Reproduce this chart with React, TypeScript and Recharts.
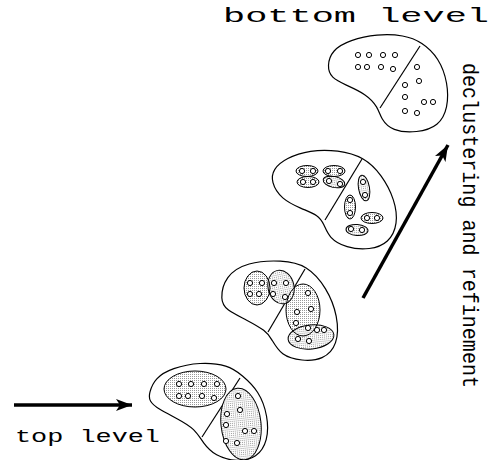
import { ComposedChart, XAxis, YAxis, Line, Scatter } from 'recharts'

// outlines of the four hierarchy levels (clockwise, closed B-spline)
const blobBottom = [[327, 66], [332, 50], [350, 40], [377, 34], [404, 35], [422, 42], [439, 58], [448, 83], [448, 108], [439, 126], [417, 133], [392, 131], [381, 119], [378, 107], [366, 94], [346, 85], [331, 78]]
const blobLevel2 = [[273, 169], [286, 158], [310, 150], [338, 150], [364, 157], [382, 175], [395, 200], [398, 224], [389, 243], [370, 250], [346, 248], [329, 238], [324, 224], [318, 215], [302, 209], [281, 199], [271, 182]]
const blobLevel3 = [[220, 300], [225, 276], [247, 262], [282, 260], [307, 265], [327, 288], [338, 316], [338, 345], [323, 360], [302, 361], [281, 356], [271, 338], [266, 331], [247, 320], [226, 310]]
const blobTop = [[149, 393], [155, 378], [172, 368], [200, 362], [228, 365], [242, 375], [259, 391], [268, 416], [268, 441], [257, 458], [237, 462], [215, 456], [203, 443], [195, 429], [178, 419], [158, 409], [149, 401]]

const dividers = [
  [[420, 46], [380, 108]],
  [[362, 159], [325, 220]],
  [[305, 269], [268, 332]],
  [[240, 378], [202, 437]],
]

// stippled clusters: centre, radii, tilt
const clusters = [
  { x: 307, y: 171, rx: 11, ry: 5.5, rot: 0 },
  { x: 334, y: 171, rx: 11, ry: 5.5, rot: 0 },
  { x: 308, y: 182, rx: 11, ry: 5.5, rot: 0 },
  { x: 334, y: 182, rx: 11, ry: 5.5, rot: 12 },
  { x: 364, y: 188, rx: 13, ry: 5.5, rot: 80 },
  { x: 350, y: 207, rx: 12, ry: 5.5, rot: 90 },
  { x: 372, y: 218, rx: 11, ry: 5.5, rot: 0 },
  { x: 357, y: 230, rx: 11, ry: 5.5, rot: 4 },
  { x: 257, y: 288, rx: 13, ry: 17, rot: 0 },
  { x: 281, y: 287, rx: 13, ry: 17, rot: -12 },
  { x: 303, y: 310, rx: 17, ry: 26, rot: 0 },
  { x: 311, y: 337, rx: 23, ry: 12, rot: -6 },
  { x: 195, y: 389, rx: 31, ry: 18, rot: 0 },
  { x: 241, y: 424, rx: 20, ry: 36, rot: -6 },
]

// data points
const points = [
  [358, 55], [369, 55], [383, 55], [395, 55], [358, 67], [367, 67], [381, 67], [393, 69],
  [417, 67], [419, 81], [405, 85], [405, 97], [424, 102], [433, 102], [405, 111], [417, 113],
  [302, 171], [313, 171], [328, 171], [340, 171], [303, 182], [313, 182], [329, 181], [340, 184],
  [363, 182], [365, 195], [350, 200], [350, 213], [367, 218], [377, 218], [351, 229], [362, 230],
  [250, 283], [262, 283], [250, 294], [259, 294], [274, 283], [286, 283], [273, 294], [285, 297],
  [308, 293], [311, 309], [297, 312], [296, 323], [308, 328], [317, 330], [324, 330], [298, 339], [309, 341],
  [179, 384], [191, 384], [204, 384], [217, 384], [179, 396], [188, 396], [202, 396], [214, 398],
  [238, 396], [240, 410], [227, 414], [226, 425], [245, 431], [254, 431], [226, 441], [237, 443],
]

const arrows = [
  [[14, 405], [132, 405]],
  [[363, 298], [448, 145]],
]

const labels = [
  { x: 223, y: 22, text: 'bottom level' },
  { x: 15, y: 442, text: 'top level' },
  { x: 463, y: 63, text: 'declustering and refinement' },
]

const labelStyle: Record<string, { size: number; len: number; vertical?: boolean }> = {
  'bottom level': { size: 19, len: 266 },
  'top level': { size: 17, len: 145 },
  'declustering and refinement': { size: 17, len: 325, vertical: true },
}

const toXY = (pts: number[][]) => pts.map(([x, y]) => ({ x, y }))

const renderPoint = (p: any) => (
  <circle cx={p.cx} cy={p.cy} r={2.6} fill="#fff" stroke="#000" strokeWidth={1} />
)

const renderClusterFill = (p: any) => (
  <ellipse cx={p.cx} cy={p.cy} rx={p.payload.rx} ry={p.payload.ry}
    transform={`rotate(${p.payload.rot} ${p.cx} ${p.cy})`} fill="url(#stipple)" stroke="none" />
)

const renderClusterEdge = (p: any) => (
  <ellipse cx={p.cx} cy={p.cy} rx={p.payload.rx} ry={p.payload.ry}
    transform={`rotate(${p.payload.rot} ${p.cx} ${p.cy})`} fill="none" stroke="#000" strokeWidth={1} />
)

const renderHead = (p: any) => {
  const ang = p.payload.angle
  return (
    <polygon points={`${p.cx},${p.cy} ${p.cx - 16},${p.cy - 6} ${p.cx - 12},${p.cy} ${p.cx - 16},${p.cy + 6}`}
      transform={`rotate(${ang} ${p.cx} ${p.cy})`} fill="#000" />
  )
}

const renderLabel = (p: any) => {
  const s = labelStyle[p.payload.text]
  return (
    <text x={0} y={0} fontFamily="'Liberation Mono', monospace" fontSize={s.size}
      textLength={s.len} lengthAdjust="spacingAndGlyphs" fill="#000"
      transform={s.vertical ? `translate(${p.cx} ${p.cy}) rotate(90) scale(1 1.3)` : `translate(${p.cx} ${p.cy}) scale(1 1.1)`}>
      {p.payload.text}
    </text>
  )
}

const heads = arrows.map(([a, b]) => ({ x: b[0], y: b[1], angle: (Math.atan2(b[1] - a[1], b[0] - a[0]) * 180) / Math.PI }))

export default function App() {
  const blobs = [blobBottom, blobLevel2, blobLevel3, blobTop]
  return (
    <div style={{ position: 'absolute', left: 0, top: 0, background: '#fff' }}>
      <ComposedChart width={493} height={460} margin={{ top: 0, right: 0, bottom: 0, left: 0 }}>
        <defs>
          <pattern id="stipple" width={2} height={2} patternUnits="userSpaceOnUse">
            <rect width={2} height={2} fill="#fff" />
            <rect width={1} height={1} fill="#999" />
          </pattern>
        </defs>
        <XAxis type="number" dataKey="x" domain={[0, 493]} allowDataOverflow hide />
        <YAxis type="number" dataKey="y" domain={[0, 460]} reversed allowDataOverflow hide />
        {blobs.map((b, i) => (
          <Line key={`blob${i}`} data={toXY(b)} dataKey="y" type="basisClosed" stroke="#000"
            strokeWidth={1.2} dot={false} activeDot={false} isAnimationActive={false} />
        ))}
        {dividers.map((d, i) => (
          <Line key={`div${i}`} data={toXY(d)} dataKey="y" type="linear" stroke="#000"
            strokeWidth={1.2} dot={false} activeDot={false} isAnimationActive={false} />
        ))}
        <Scatter data={clusters} shape={renderClusterFill} isAnimationActive={false} />
        <Scatter data={clusters} shape={renderClusterEdge} isAnimationActive={false} />
        <Scatter data={toXY(points)} shape={renderPoint} isAnimationActive={false} />
        {arrows.map((a, i) => (
          <Line key={`arr${i}`} data={toXY(a)} dataKey="y" type="linear" stroke="#000"
            strokeWidth={3.5} dot={false} activeDot={false} isAnimationActive={false} />
        ))}
        <Scatter data={heads} shape={renderHead} isAnimationActive={false} />
        <Scatter data={labels} shape={renderLabel} isAnimationActive={false} />
      </ComposedChart>
    </div>
  )
}
